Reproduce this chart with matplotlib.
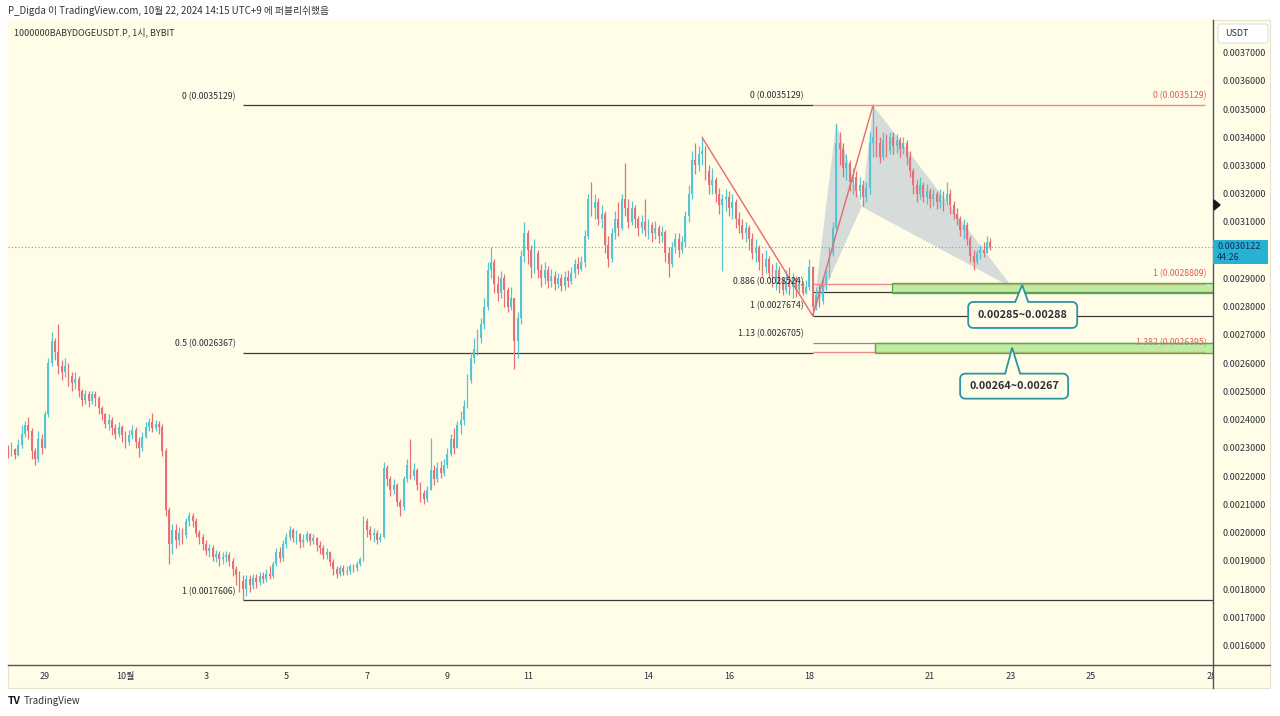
import matplotlib
matplotlib.use('Agg')
import numpy as np
import matplotlib.pyplot as plt
from matplotlib.patches import Rectangle, Polygon, FancyBboxPatch
from matplotlib.lines import Line2D
from matplotlib.transforms import IdentityTransform
import matplotlib.ticker as mticker
import matplotlib.colors as mcolors

plt.rcParams['font.family'] = ['Noto Sans CJK KR', 'DejaVu Sans']

# ---------------- data ----------------
header_text = 'P_Digda 이 TradingView.com, 10월 22, 2024 14:15 UTC+9 에 퍼블리쉬했음'
symbol_title = '1000000BABYDOGEUSDT.P, 1시, BYBIT'

# 2-hour candles, prices in 1e-6 USDT; day 0 = Sep 29 00:00
candle_start_day = -22 / 24
candle_step_day = 2 / 24
first_open = 2290
closes = [2280,2295,2275,2310,2350,2380,2360,2290,2260,2330,
          2300,2420,2600,2680,2640,2590,2570,2590,2555,2530,
          2545,2500,2470,2490,2465,2490,2475,2440,2420,2385,
          2400,2370,2350,2375,2345,2320,2345,2365,2320,2300,
          2340,2375,2390,2370,2385,2375,2290,2080,1960,2010,
          1975,2000,1990,2040,2060,2040,2000,1985,1960,1935,
          1945,1915,1925,1905,1915,1920,1900,1870,1850,1830,
          1800,1835,1815,1840,1825,1845,1835,1855,1845,1890,
          1930,1910,1960,1985,2010,1980,1995,1965,1975,1995,
          1970,1980,1955,1945,1920,1930,1895,1870,1855,1875,
          1860,1865,1880,1875,1890,1905,2040,2010,1990,2000,
          1975,1985,2230,2190,2150,2170,2110,2090,2190,2240,
          2200,2220,2170,2140,2120,2150,2220,2190,2230,2210,
          2240,2280,2330,2300,2380,2400,2450,2540,2620,2650,
          2690,2740,2800,2930,2960,2880,2850,2900,2860,2800,
          2830,2680,2760,2980,3060,3000,2940,2990,2930,2900,
          2930,2890,2910,2880,2900,2875,2905,2890,2920,2950,
          2935,2960,3050,3180,3150,3170,3110,3130,3020,2970,
          3060,3110,3080,3180,3150,3100,3150,3110,3080,3100,
          3070,3090,3060,3080,3050,3065,2990,2950,3010,3040,
          3000,3030,3120,3200,3320,3300,3340,3350,3280,3230,
          3250,3200,3160,3180,3190,3150,3170,3110,3090,3060,
          3080,3040,2990,3010,2960,2940,2970,2920,2900,2930,
          2880,2860,2890,2870,2900,2860,2880,2850,2870,2940,
          2800,2840,2820,2880,2910,2990,3080,3380,3360,3290,
          3310,3240,3260,3210,3230,3190,3220,3380,3400,3380,
          3330,3390,3350,3400,3370,3390,3360,3380,3330,3280,
          3230,3200,3230,3190,3210,3180,3200,3170,3195,3175,
          3200,3160,3130,3110,3070,3090,3040,2980,2960,2990,
          3000,2990,3030,3012]
highs = [2310,2320,2300,2330,2380,2395,2410,2370,2300,2360,
         2350,2430,2620,2710,2690,2738,2610,2620,2600,2570,
         2570,2555,2510,2505,2500,2500,2500,2485,2450,2425,
         2420,2410,2385,2390,2380,2360,2365,2380,2375,2340,
         2355,2390,2405,2425,2400,2395,2385,2300,2090,2030,
         2030,2020,2015,2050,2072,2070,2050,2010,1995,1975,
         1960,1955,1940,1935,1930,1935,1930,1910,1880,1865,
         1850,1850,1850,1855,1855,1860,1860,1870,1880,1900,
         1945,1950,1975,2000,2025,2015,2010,2000,1995,2005,
         2000,1995,1985,1970,1955,1945,1935,1905,1880,1885,
         1885,1880,1890,1890,1900,1915,2058,2050,2025,2015,
         2010,2000,2250,2240,2200,2190,2175,2120,2200,2260,
         2330,2245,2230,2180,2150,2165,2335,2240,2250,2255,
         2260,2300,2350,2370,2395,2430,2470,2560,2640,2690,
         2720,2760,2830,2960,3011,2970,2910,2925,2915,2870,
         2870,2830,2780,3000,3100,3070,3020,3040,3000,2950,
         2960,2945,2935,2925,2920,2915,2925,2930,2940,2970,
         2975,2980,3070,3200,3242,3200,3185,3160,3140,3050,
         3080,3140,3170,3200,3310,3180,3175,3160,3120,3125,
         3180,3110,3100,3105,3090,3085,3070,3010,3030,3060,
         3060,3050,3140,3230,3350,3380,3370,3399,3370,3300,
         3290,3260,3220,3200,3215,3210,3200,3180,3135,3110,
         3100,3090,3060,3040,3020,2990,3000,2980,2950,2960,
         2945,2900,2930,2940,2920,2910,2900,2890,2895,2970,
         2945,2870,2880,2900,2930,3010,3100,3450,3420,3380,
         3340,3320,3290,3280,3260,3250,3240,3420,3513,3440,
         3400,3420,3410,3420,3420,3410,3400,3400,3390,3350,
         3290,3250,3260,3240,3235,3220,3215,3210,3215,3210,
         3240,3215,3175,3150,3120,3110,3100,3050,3000,3000,
         3020,3030,3050,3045]
lows = [2265,2270,2260,2270,2300,2340,2330,2260,2240,2250,
        2280,2300,2410,2590,2610,2560,2540,2550,2520,2500,
        2510,2480,2450,2455,2445,2455,2450,2420,2400,2370,
        2365,2345,2330,2340,2320,2300,2310,2330,2300,2268,
        2290,2335,2360,2355,2360,2350,2270,2060,1888,1925,
        1945,1955,1960,1980,2025,2020,1985,1960,1940,1920,
        1915,1900,1895,1880,1890,1895,1880,1845,1815,1790,
        1761,1775,1790,1800,1805,1815,1820,1825,1835,1840,
        1880,1895,1900,1945,1975,1965,1960,1945,1950,1965,
        1955,1960,1935,1925,1905,1905,1880,1850,1840,1845,
        1850,1850,1855,1860,1865,1880,1900,1985,1975,1965,
        1960,1965,1980,2165,2130,2135,2095,2060,2080,2180,
        2190,2185,2150,2110,2100,2110,2150,2170,2180,2195,
        2200,2230,2270,2280,2300,2350,2380,2440,2530,2600,
        2630,2670,2720,2790,2900,2850,2820,2830,2800,2780,
        2790,2580,2620,2740,2960,2950,2900,2920,2900,2870,
        2880,2865,2870,2860,2865,2855,2860,2870,2880,2900,
        2915,2925,2940,3040,3120,3110,3090,3080,2990,2940,
        2960,3040,3050,3070,3120,3080,3090,3080,3050,3060,
        3050,3040,3030,3040,3025,3030,2960,2905,2940,2990,
        2975,2990,3010,3100,3180,3270,3280,3300,3250,3200,
        3200,3170,3130,2925,3140,3120,3110,3080,3060,3040,
        3030,3000,2970,2960,2930,2910,2920,2900,2870,2860,
        2850,2840,2850,2840,2830,2835,2850,2840,2845,2860,
        2767,2790,2800,2810,2860,2900,2980,3070,3300,3260,
        3250,3210,3200,3190,3180,3155,3170,3200,3330,3330,
        3310,3320,3330,3340,3340,3345,3330,3340,3300,3260,
        3200,3170,3180,3170,3165,3150,3155,3145,3150,3140,
        3160,3130,3110,3090,3050,3040,3020,2960,2930,2950,
        2970,2975,2990,3000]
price_unit = 1e-6
last_price = 0.0030122
countdown = '44:26'

# axis price labels (0.0030000 is hidden behind the last-price tag)
price_ticks = [0.0016, 0.0017, 0.0018, 0.0019, 0.0020, 0.0021, 0.0022, 0.0023,
               0.0024, 0.0025, 0.0026, 0.0027, 0.0028, 0.0029, 0.0031, 0.0032,
               0.0033, 0.0034, 0.0035, 0.0036, 0.0037]
time_tick_days = [0, 2, 4, 6, 8, 10, 12, 15, 17, 19, 22, 24, 26, 29]
time_tick_labels = ['29', '10월', '3', '5', '7', '9', '11', '14', '16', '18', '21', '23', '25', '28']

fib_left_anchor_idx = 70
fib_left_levels = [0.0035129, 0.0026367, 0.0017606]
fib_left_ratios = ['0', '0.5', '1']

fib_mid_anchor_idx = 240
fib_mid_levels = [0.0035129, 0.0028524, 0.0027674, 0.0026705]
fib_mid_ratios = ['0', '0.886', '1', '1.13']

fib_red_end_day = 28.83
fib_red_levels = [0.0035129, 0.0028809, 0.0026395]
fib_red_ratios = ['0', '1', '1.382']

trend_idx = [207, 240, 258]
trend_prices = [0.0033994, 0.0027674, 0.0035129]

# XABCD pattern
pattern_days = [19.083, 19.667, 20.30, 20.583, 24.06]
pattern_prices = [0.0027674, 0.0034500, 0.0031540, 0.0035129, 0.0028660]

zone_start_days = [21.05, 20.63]
zone_low = [0.0028524, 0.0026395]
zone_high = [0.0028809, 0.0026705]

callout_texts = ['0.00285~0.00288', '0.00264~0.00267']
callout_days = [24.29, 24.04]
callout_prices = [0.002877, 0.002655]

# ---------------- layout ----------------
W, H = 1280, 716
fig = plt.figure(figsize=(W / 100, H / 100), dpi=100)
fig.patch.set_facecolor('white')

def fx(x):
    return x / W

def fy(y):
    return 1 - y / H

BG = '#fffde8'
UP = '#55c5d1'
DOWN = '#e66f78'
TXT = '#2a2e39'

fig.add_artist(Rectangle((fx(8), fy(688)), fx(1270) - fx(8), fy(20) - fy(688),
                         transform=fig.transFigure, facecolor=BG,
                         edgecolor='#e6e2cc', lw=0.8, zorder=-1))

ax = fig.add_axes([fx(8), fy(665), fx(1213) - fx(8), fy(20) - fy(665)])
ax.set_facecolor(BG)
x_left, x_right = -0.920, 29.033
ax.set_xlim(x_left, x_right)
ax.set_ylim(0.0015312, 0.0038152)
for s in ax.spines.values():
    s.set_visible(False)
ax.set_xticks([])
ax.yaxis.tick_right()
ax.set_yticks(price_ticks)
ax.yaxis.set_major_formatter(mticker.FormatStrFormatter('%.7f'))
ax.tick_params(axis='y', length=0, pad=6.5, labelsize=6.5, labelcolor=TXT)

# candles
n = len(closes)
t = candle_start_day + candle_step_day * np.arange(n)
c = np.array(closes, float) * price_unit
o = np.r_[first_open, closes[:-1]].astype(float) * price_unit
hi = np.maximum.reduce([np.array(highs, float) * price_unit, o, c])
lo = np.minimum.reduce([np.array(lows, float) * price_unit, o, c])
col = np.where(c >= o, UP, DOWN)

t0 = t[fib_left_anchor_idx]
tm = t[fib_mid_anchor_idx]

# fib lines (black); where a red level sits on top, the black line stops at the red start
left_line_end = [tm, tm, x_right]
for lvl, r, xe in zip(fib_left_levels, fib_left_ratios, left_line_end):
    ax.hlines(lvl, t0, xe, color='#3a3a3a', lw=0.9, zorder=2)
    ax.annotate(f'{r} ({lvl:.7f})', (t0, lvl), xytext=(-5, 6.5), textcoords='offset points',
                ha='right', va='center', fontsize=6.3, color=TXT, zorder=5)

mid_colors = [None, '#3a3a3a', '#3a3a3a', '#8a8a8a']
for lvl, r, cc in zip(fib_mid_levels, fib_mid_ratios, mid_colors):
    if cc is not None:
        ax.hlines(lvl, tm, x_right, color=cc, lw=0.9, zorder=2)
    ax.annotate(f'{r} ({lvl:.7f})', (tm, lvl), xytext=(-6.5, 7), textcoords='offset points',
                ha='right', va='center', fontsize=6.3, color=TXT, zorder=5)

# dotted last price line
ax.axhline(last_price, color='#3fb5c9', lw=0.8, ls=(0, (1, 2)), zorder=2)

# pattern shading
pd_ = pattern_days
pp_ = pattern_prices
for tri in ([0, 1, 2], [2, 3, 4]):
    ax.add_patch(Polygon([(pd_[k], pp_[k]) for k in tri], closed=True,
                         facecolor='#93a8c2', alpha=0.38, edgecolor='none', zorder=2.5))

ax.vlines(t, lo, hi, colors=col, lw=0.9, zorder=3)
ax.bar(t, np.maximum(np.abs(c - o), 0.000004), bottom=np.minimum(o, c),
       width=candle_step_day * 0.55, color=col, lw=0, zorder=3)

# red trend lines
ax.plot([t[k] for k in trend_idx], trend_prices, color='#e8696b', lw=1.0, zorder=4)

# red fib extension
for lvl, r in zip(fib_red_levels, fib_red_ratios):
    ax.hlines(lvl, tm, fib_red_end_day, color='#f08a8a', lw=1.0, zorder=4)
    ax.annotate(f'{r} ({lvl:.7f})', (fib_red_end_day, lvl), xytext=(1.5, 7),
                textcoords='offset points', ha='right', va='center', fontsize=6.3,
                color='#e05c5c', zorder=4.2)

# green zones
for sd, zl, zh in zip(zone_start_days, zone_low, zone_high):
    ax.add_patch(Rectangle((sd, zl - 0.0000025), x_right + 1 - sd, zh - zl + 0.000005,
                           facecolor=mcolors.to_rgba('#8fdc6a', 0.55),
                           edgecolor='#55b04a', lw=1.0, zorder=5, clip_on=True))

# callouts
geom = [(54, 55, 17, 26, -7, 6), (52, 56, 26, 25, -7, 8)]
r_ = 5
def arc(cx, cy, a0, a1):
    ang = np.radians(np.linspace(a0, a1, 8))
    return list(zip(cx + r_ * np.cos(ang), cy + r_ * np.sin(ang)))

for txt, d, p, (lft, rgt, gap, hgt, bl, br) in zip(callout_texts, callout_days, callout_prices, geom):
    X, Y = ax.transData.transform((d, p))
    T = Y - gap
    B = T - hgt
    L = X - lft
    R = X + rgt
    pts = [(X + bl, T), (X, Y), (X + br, T)]
    pts += arc(R - r_, T - r_, 90, 0)
    pts += arc(R - r_, B + r_, 0, -90)
    pts += arc(L + r_, B + r_, -90, -180)
    pts += arc(L + r_, T - r_, 180, 90)
    fig.add_artist(Polygon(pts, closed=True, transform=IdentityTransform(),
                           facecolor=BG, edgecolor='#2b95a3', lw=1.3, zorder=6))
    fig.text((L + R) / 2 / W, (T + B) / 2 / H, txt, ha='center', va='center',
             fontsize=7.8, fontweight='bold', color=TXT, zorder=7)

# time axis
ax2 = fig.add_axes([fx(8), fy(688), fx(1213) - fx(8), fy(665) - fy(688)])
ax2.set_xlim(x_left, x_right)
ax2.set_ylim(0, 1)
ax2.axis('off')
for d, lab in zip(time_tick_days, time_tick_labels):
    ax2.text(d, 0.5, lab, ha='center', va='center', fontsize=6.5, color=TXT, clip_on=True)

# dividers
fig.add_artist(Line2D([1213, 1213], [H - 20, H - 688], transform=IdentityTransform(), color='#50535e', lw=1.0, zorder=4))
fig.add_artist(Line2D([8, 1270], [H - 665, H - 665], transform=IdentityTransform(), color='#50535e', lw=1.0, zorder=4))

# right-side labels
fig.add_artist(Rectangle((1213, H - 264), 55, 24, transform=IdentityTransform(),
                         facecolor='#27b1d4', edgecolor='none', zorder=5))
fig.text(fx(1217), fy(247), f'{last_price:.7f}', fontsize=6.5, color='#0e2f55', va='center', zorder=6)
fig.text(fx(1217), fy(258), countdown, fontsize=6.5, color='#0e2f55', va='center', zorder=6)
fig.add_artist(FancyBboxPatch((1218, H - 43), 50, 19, boxstyle='round,pad=0,rounding_size=3',
                              transform=IdentityTransform(), facecolor='white',
                              edgecolor='#e0e0e0', lw=0.8, zorder=5))
fig.text(fx(1225), fy(34), 'USDT', fontsize=6.5, color=TXT, va='center', zorder=6)
fig.add_artist(Polygon([(1214, H - 200), (1220, H - 205), (1214, H - 210)], closed=True,
                       transform=IdentityTransform(), color='#131722', zorder=6))

# header / footer texts
fig.text(fx(8), fy(11), header_text, fontsize=7, color='#333333', va='center')
fig.text(fx(14), fy(32), symbol_title, fontsize=6.5, color='#333333', va='center')
fig.text(fx(8), fy(701), 'TV', fontsize=7.5, fontweight='bold', color='#131722', va='center')
fig.text(fx(24), fy(701), 'TradingView', fontsize=7, color='#333333', va='center')

fig.savefig('out.png', dpi=100, facecolor='white')
